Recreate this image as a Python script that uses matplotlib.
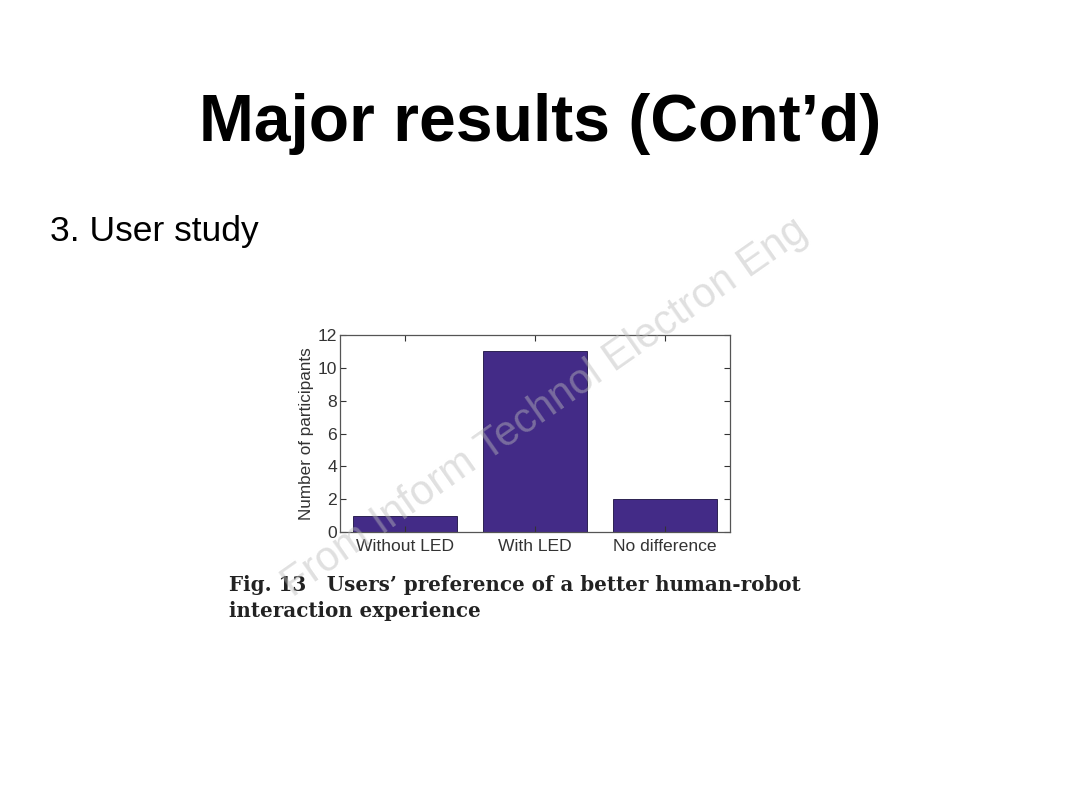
import matplotlib.pyplot as plt

categories = ['Without LED', 'With LED', 'No difference']
participants = [1, 11, 2]
y_ticks = [0, 2, 4, 6, 8, 10, 12]

BAR_COLOR = '#432b87'

fig = plt.figure(figsize=(10.8, 8.1), dpi=100)
fig.patch.set_facecolor('white')

# slide text
fig.text(0.5, 1 - 124 / 810, 'Major results (Cont\u2019d)', ha='center', va='center',
         fontsize=47.5, fontweight='bold', family='Liberation Sans')
fig.text(50 / 1080, 1 - 232 / 810, '3. User study', ha='left', va='center',
         fontsize=25.5, family='Liberation Sans')

# chart axes (pixel box: x 340-730, y 335-532)
ax = fig.add_axes([340 / 1080, 1 - 532 / 810, 390 / 1080, 197 / 810])
x = list(range(1, len(categories) + 1))
ax.bar(x, participants, width=0.8, color=BAR_COLOR, edgecolor='#1a1040', linewidth=0.6)
ax.set_xlim(0.5, 3.5)
ax.set_ylim(0, 12)
ax.set_yticks(y_ticks)
ax.set_xticks(x)
ax.set_xticklabels(categories)
ax.tick_params(direction='in', top=True, right=True, length=4, width=0.8,
               labelsize=12.6, pad=2, colors='#333333', labelcolor='#333333')
ax.tick_params(axis='x', pad=5)
for lbl in ax.get_xticklabels() + ax.get_yticklabels():
    lbl.set_family('Liberation Sans')
ax.set_ylabel('Number of participants', fontsize=12.3, family='Liberation Sans',
              color='#333333', labelpad=3)
for s in ax.spines.values():
    s.set_color('#555555')
    s.set_linewidth(0.9)

# caption
fig.text(229 / 1080, 1 - 585 / 810,
         'Fig. 13   Users\u2019 preference of a better human-robot',
         ha='left', va='center', fontsize=14.3, fontweight='bold',
         family='DejaVu Serif', color='#222222')
fig.text(229 / 1080, 1 - 611 / 810, 'interaction experience',
         ha='left', va='center', fontsize=14.3, fontweight='bold',
         family='DejaVu Serif', color='#222222')

# watermark
fig.text(545 / 1080, 1 - 408 / 810, 'From Inform Technol Electron Eng',
         ha='center', va='center', rotation=35, fontsize=30,
         family='Liberation Sans', color='#bbbbbb', alpha=0.45)

fig.savefig('out.png', dpi=100)
